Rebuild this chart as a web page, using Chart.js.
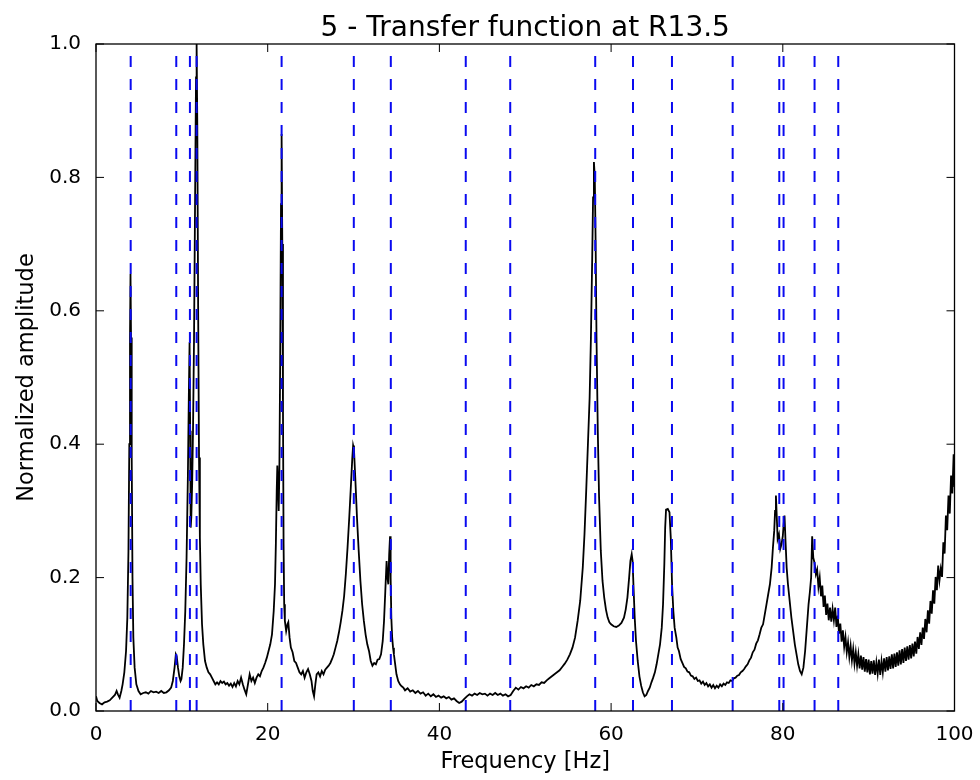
<!DOCTYPE html>
<html><head><meta charset="utf-8">
<script src="https://cdn.jsdelivr.net/npm/chart.js@4/dist/chart.umd.min.js"></script>
<style>html,body{margin:0;padding:0;background:#fff}#wrap{width:980px;height:780px}</style>
</head><body><div id="wrap"><canvas id="c" width="980" height="780"></canvas></div>
<script>
const titleText = '5 - Transfer function at R13.5';
const xLabel = 'Frequency [Hz]';
const yLabel = 'Normalized amplitude';
const xTicks = [0, 20, 40, 60, 80, 100];
const yTicks = [0.0, 0.2, 0.4, 0.6, 0.8, 1.0];
const modeFreqs = [4.04, 9.35, 10.94, 11.72, 21.62, 30.03, 34.34, 43.07, 48.25, 58.15, 62.55, 67.09, 74.16, 79.59, 80.09, 83.70, 86.46];

const freqHz = [
0, 0.15, 0.4, 0.7, 1.0, 1.3, 1.6, 1.9, 2.2, 2.4,
2.55, 2.75, 2.95, 3.1, 3.3, 3.5, 3.65, 3.78, 3.88, 3.96,
4.02, 4.08, 4.16, 4.25, 4.35, 4.5, 4.7, 4.95, 5.2, 5.5,
5.8, 6.1, 6.4, 6.7, 7.0, 7.3, 7.6, 7.9, 8.2, 8.5,
8.75, 8.95, 9.15, 9.3, 9.4, 9.55, 9.7, 9.85, 9.95, 10.1,
10.25, 10.4, 10.55, 10.7, 10.82, 10.9, 10.97, 11.03, 11.1, 11.2,
11.3, 11.42, 11.55, 11.65, 11.72, 11.8, 11.9, 12.0, 12.1, 12.2,
12.35, 12.5, 12.7, 12.9, 13.1, 13.3, 13.5, 13.7, 13.9, 14.1,
14.3, 14.5, 14.7, 14.9, 15.1, 15.3, 15.5, 15.7, 15.9, 16.1,
16.3, 16.5, 16.7, 16.9, 17.1, 17.3, 17.5, 17.7, 17.9, 18.1,
18.3, 18.5, 18.7, 18.9, 19.1, 19.3, 19.5, 19.7, 19.9, 20.1,
20.3, 20.5, 20.7, 20.85, 20.95, 21.05, 21.12, 21.2, 21.28, 21.36,
21.45, 21.55, 21.62, 21.7, 21.78, 21.85, 21.92, 22.0, 22.15, 22.3,
22.4, 22.55, 22.7, 22.9, 23.1, 23.3, 23.5, 23.7, 23.9, 24.1,
24.3, 24.5, 24.7, 24.9, 25.1, 25.25, 25.4, 25.55, 25.7, 25.9,
26.1, 26.3, 26.5, 26.7, 26.9, 27.1, 27.3, 27.5, 27.7, 27.9,
28.1, 28.3, 28.5, 28.7, 28.9, 29.1, 29.3, 29.5, 29.7, 29.85,
29.95, 30.05, 30.2, 30.4, 30.6, 30.8, 31.0, 31.2, 31.4, 31.6,
31.8, 32.0, 32.2, 32.4, 32.6, 32.8, 33.0, 33.2, 33.4, 33.55,
33.7, 33.85, 33.95, 34.05, 34.15, 34.25, 34.32, 34.4, 34.5, 34.6,
34.7, 34.85, 35.0, 35.2, 35.4, 35.6, 35.8, 36.0, 36.3, 36.6,
36.9, 37.2, 37.5, 37.8, 38.1, 38.4, 38.7, 39.0, 39.3, 39.6,
39.9, 40.2, 40.5, 40.8, 41.1, 41.4, 41.7, 42.0, 42.3, 42.6,
42.9, 43.2, 43.5, 43.8, 44.1, 44.4, 44.7, 45.0, 45.3, 45.6,
45.9, 46.2, 46.5, 46.8, 47.1, 47.4, 47.7, 48.0, 48.3, 48.6,
48.9, 49.2, 49.5, 49.8, 50.1, 50.4, 50.7, 51.0, 51.3, 51.6,
51.9, 52.2, 52.5, 52.8, 53.1, 53.4, 53.7, 54.0, 54.3, 54.6,
54.9, 55.2, 55.5, 55.8, 56.1, 56.4, 56.7, 56.9, 57.1, 57.3,
57.5, 57.65, 57.8, 57.9, 58.0, 58.1, 58.2, 58.3, 58.45, 58.6,
58.8, 59.0, 59.2, 59.4, 59.6, 59.8, 60.0, 60.3, 60.6, 60.9,
61.2, 61.5, 61.7, 61.9, 62.1, 62.25, 62.4, 62.5, 62.6, 62.75,
62.9, 63.1, 63.3, 63.5, 63.7, 63.9, 64.1, 64.3, 64.5, 64.7,
64.9, 65.1, 65.3, 65.5, 65.7, 65.9, 66.05, 66.2, 66.3, 66.4,
66.6, 66.8, 66.95, 67.1, 67.25, 67.4, 67.6, 67.75, 67.9, 68.1,
68.3, 68.5, 68.7, 68.9, 69.1, 69.3, 69.5, 69.7, 69.9, 70.1,
70.3, 70.5, 70.7, 70.9, 71.1, 71.3, 71.5, 71.7, 71.9, 72.1,
72.3, 72.5, 72.7, 72.9, 73.1, 73.3, 73.5, 73.7, 73.9, 74.1,
74.3, 74.5, 74.7, 74.9, 75.1, 75.3, 75.5, 75.7, 75.9, 76.1,
76.3, 76.5, 76.7, 76.9, 77.1, 77.3, 77.5, 77.7, 77.9, 78.1,
78.3, 78.5, 78.7, 78.85, 79.0, 79.1, 79.2, 79.3, 79.4, 79.55,
79.7, 79.85, 80.0, 80.1, 80.2, 80.3, 80.45, 80.6, 80.8, 81.0,
81.2, 81.4, 81.6, 81.8, 82.0, 82.2, 82.4, 82.6, 82.8, 83.0,
83.15, 83.3, 83.42, 83.55, 83.7, 83.85, 84.0, 84.15, 84.3, 84.45,
84.6, 84.75, 84.9, 85.05, 85.2, 85.35, 85.5, 85.65, 85.8, 85.95,
86.1, 86.25, 86.4, 86.55, 86.7, 86.85, 87.0, 87.15, 87.3, 87.45,
87.6, 87.75, 87.9, 88.05, 88.2, 88.35, 88.5, 88.65, 88.8, 88.95,
89.1, 89.25, 89.4, 89.55, 89.7, 89.85, 90.0, 90.15, 90.3, 90.45,
90.6, 90.75, 90.9, 91.05, 91.2, 91.35, 91.5, 91.65, 91.8, 91.95,
92.1, 92.25, 92.4, 92.55, 92.7, 92.85, 93.0, 93.15, 93.3, 93.45,
93.6, 93.75, 93.9, 94.05, 94.2, 94.35, 94.5, 94.65, 94.8, 94.95,
95.1, 95.25, 95.4, 95.55, 95.7, 95.85, 96.0, 96.15, 96.3, 96.45,
96.6, 96.75, 96.9, 97.05, 97.2, 97.35, 97.5, 97.65, 97.8, 97.95,
98.1, 98.25, 98.4, 98.55, 98.7, 98.85, 99.0, 99.15, 99.3, 99.45,
99.6, 99.75, 99.9, 100
];

const amplitude = [
0.022, 0.015, 0.012, 0.010, 0.013, 0.014, 0.016, 0.020, 0.024, 0.030,
0.025, 0.020, 0.030, 0.040, 0.058, 0.090, 0.140, 0.240, 0.400, 0.560,
0.655, 0.560, 0.380, 0.200, 0.110, 0.065, 0.040, 0.030, 0.025, 0.027,
0.028, 0.026, 0.030, 0.028, 0.029, 0.027, 0.030, 0.027, 0.028, 0.031,
0.035, 0.045, 0.065, 0.085, 0.082, 0.065, 0.052, 0.045, 0.048, 0.065,
0.100, 0.150, 0.230, 0.350, 0.480, 0.553, 0.420, 0.275, 0.290, 0.340,
0.420, 0.560, 0.780, 0.950, 1.000, 0.880, 0.600, 0.380, 0.260, 0.190,
0.130, 0.100, 0.075, 0.065, 0.058, 0.055, 0.050, 0.045, 0.040, 0.043,
0.040, 0.045, 0.042, 0.044, 0.040, 0.042, 0.038, 0.041, 0.036, 0.042,
0.037, 0.045, 0.040, 0.050, 0.040, 0.032, 0.025, 0.040, 0.055, 0.045,
0.050, 0.042, 0.050, 0.055, 0.052, 0.060, 0.065, 0.072, 0.080, 0.090,
0.100, 0.115, 0.150, 0.190, 0.250, 0.330, 0.368, 0.340, 0.300, 0.360,
0.520, 0.760, 0.865, 0.700, 0.450, 0.250, 0.160, 0.135, 0.120, 0.130,
0.133, 0.110, 0.095, 0.088, 0.075, 0.072, 0.065, 0.058, 0.055, 0.060,
0.050, 0.058, 0.063, 0.055, 0.045, 0.030, 0.022, 0.040, 0.055, 0.058,
0.052, 0.060, 0.055, 0.062, 0.065, 0.068, 0.072, 0.078, 0.085, 0.095,
0.105, 0.118, 0.133, 0.150, 0.172, 0.205, 0.245, 0.290, 0.340, 0.378,
0.398, 0.392, 0.350, 0.290, 0.240, 0.195, 0.160, 0.135, 0.115, 0.100,
0.090, 0.075, 0.068, 0.072, 0.070, 0.077, 0.078, 0.085, 0.105, 0.135,
0.180, 0.225, 0.200, 0.190, 0.235, 0.262, 0.200, 0.140, 0.110, 0.095,
0.085, 0.070, 0.055, 0.045, 0.040, 0.037, 0.035, 0.031, 0.034, 0.029,
0.031, 0.027, 0.030, 0.026, 0.028, 0.023, 0.026, 0.022, 0.025, 0.021,
0.023, 0.020, 0.022, 0.019, 0.021, 0.017, 0.019, 0.015, 0.012, 0.014,
0.018, 0.022, 0.025, 0.023, 0.026, 0.024, 0.027, 0.025, 0.026, 0.023,
0.026, 0.024, 0.027, 0.024, 0.026, 0.023, 0.025, 0.022, 0.024, 0.030,
0.035, 0.032, 0.036, 0.034, 0.037, 0.035, 0.039, 0.037, 0.040, 0.039,
0.043, 0.042, 0.046, 0.049, 0.052, 0.055, 0.058, 0.061, 0.066, 0.071,
0.077, 0.085, 0.095, 0.110, 0.135, 0.165, 0.215, 0.265, 0.330, 0.400,
0.470, 0.560, 0.680, 0.770, 0.823, 0.800, 0.700, 0.560, 0.420, 0.320,
0.240, 0.195, 0.170, 0.152, 0.140, 0.133, 0.130, 0.127, 0.126, 0.128,
0.132, 0.140, 0.152, 0.170, 0.200, 0.225, 0.235, 0.225, 0.190, 0.140,
0.105, 0.075, 0.052, 0.038, 0.028, 0.022, 0.024, 0.030, 0.035, 0.043,
0.050, 0.058, 0.070, 0.085, 0.100, 0.125, 0.160, 0.220, 0.275, 0.302,
0.303, 0.298, 0.260, 0.190, 0.150, 0.125, 0.110, 0.095, 0.090, 0.078,
0.072, 0.066, 0.064, 0.059, 0.058, 0.053, 0.052, 0.048, 0.050, 0.045,
0.046, 0.041, 0.044, 0.039, 0.042, 0.037, 0.040, 0.035, 0.039, 0.034,
0.038, 0.035, 0.040, 0.037, 0.041, 0.039, 0.043, 0.042, 0.046, 0.045,
0.049, 0.050, 0.053, 0.054, 0.058, 0.060, 0.063, 0.067, 0.070, 0.076,
0.080, 0.088, 0.092, 0.101, 0.106, 0.115, 0.125, 0.130, 0.145, 0.160,
0.175, 0.190, 0.215, 0.245, 0.270, 0.300, 0.323, 0.290, 0.258, 0.265,
0.243, 0.250, 0.262, 0.280, 0.293, 0.260, 0.215, 0.190, 0.165, 0.140,
0.120, 0.100, 0.085, 0.070, 0.060, 0.055, 0.065, 0.090, 0.125, 0.160,
0.178, 0.200, 0.262, 0.230, 0.222, 0.205, 0.212, 0.186, 0.200, 0.172,
0.188, 0.156, 0.173, 0.144, 0.161, 0.136, 0.155, 0.134, 0.153, 0.136,
0.155, 0.126, 0.143, 0.116, 0.131, 0.104, 0.121, 0.096, 0.111, 0.088,
0.103, 0.081, 0.098, 0.076, 0.093, 0.071, 0.088, 0.068, 0.085, 0.064,
0.083, 0.062, 0.081, 0.059, 0.078, 0.058, 0.077, 0.055, 0.075, 0.056,
0.076, 0.054, 0.073, 0.056, 0.077, 0.054, 0.075, 0.058, 0.079, 0.059,
0.081, 0.061, 0.082, 0.063, 0.085, 0.064, 0.086, 0.066, 0.088, 0.068,
0.091, 0.070, 0.093, 0.072, 0.095, 0.075, 0.097, 0.077, 0.099, 0.079,
0.101, 0.082, 0.104, 0.086, 0.111, 0.093, 0.118, 0.099, 0.125, 0.108,
0.138, 0.118, 0.151, 0.131, 0.165, 0.146, 0.181, 0.161, 0.201, 0.181,
0.218, 0.196, 0.213, 0.201, 0.253, 0.236, 0.293, 0.271, 0.323, 0.296,
0.353, 0.326, 0.385, 0.336
];

const FONT = 'DejaVu Sans';

const curve = freqHz.map((f, i) => ({ x: f, y: amplitude[i] }));
const modeSets = modeFreqs.map(f => ({
  data: [{ x: f, y: yTicks[0] }, { x: f, y: yTicks[yTicks.length - 1] }],
  borderColor: '#0a0af0',
  borderWidth: 2,
  borderDash: [11, 12],
  pointRadius: 0,
  order: 1
}));

const framePlugin = {
  id: 'frame',
  afterDatasetsDraw(chart) {
    const { ctx, chartArea: a, scales: { x, y } } = chart;
    ctx.save();
    ctx.strokeStyle = '#000';
    ctx.lineWidth = 1;
    ctx.beginPath();
    x.ticks.forEach(t => {
      const px = x.getPixelForValue(t.value);
      ctx.moveTo(px, a.bottom); ctx.lineTo(px, a.bottom - 8);
      ctx.moveTo(px, a.top); ctx.lineTo(px, a.top + 8);
    });
    y.ticks.forEach(t => {
      const py = y.getPixelForValue(t.value);
      ctx.moveTo(a.left, py); ctx.lineTo(a.left + 8, py);
      ctx.moveTo(a.right, py); ctx.lineTo(a.right - 8, py);
    });
    ctx.stroke();
    ctx.lineWidth = 1.3;
    ctx.strokeRect(a.left, a.top, a.right - a.left, a.bottom - a.top);
    ctx.restore();
  }
};

new Chart(document.getElementById('c'), {
  type: 'line',
  data: {
    datasets: [
      ...modeSets,
      { data: curve, borderColor: '#000', borderWidth: 1.8, pointRadius: 0, tension: 0, order: 2 }
    ]
  },
  options: {
    responsive: false,
    animation: false,
    layout: { padding: { left: 0, right: 25.5, top: 0, bottom: 0 } },
    plugins: {
      legend: { display: false },
      tooltip: { enabled: false },
      title: {
        display: true, text: titleText, fullSize: false, color: '#000',
        font: { family: FONT, size: 28, weight: 'normal', lineHeight: 1 },
        padding: { top: 15, bottom: 1 }
      }
    },
    scales: {
      x: {
        type: 'linear', min: 0, max: 100,
        afterBuildTicks: s => { s.ticks = xTicks.map(v => ({ value: v })); },
        afterFit: s => { s.height = 69; s.paddingLeft = 0; s.paddingRight = 0; },
        grid: { display: false, drawTicks: false },
        border: { display: false },
        ticks: { color: '#000', font: { family: FONT, size: 20 }, padding: 12, maxRotation: 0, autoSkip: false },
        title: { display: true, text: xLabel, color: '#000', font: { family: FONT, size: 22.5 }, padding: { top: 0, bottom: 4 } }
      },
      y: {
        type: 'linear', min: 0, max: 1,
        afterBuildTicks: s => { s.ticks = yTicks.map(v => ({ value: v })); },
        afterFit: s => { s.width = 96; s.paddingTop = 0; s.paddingBottom = 0; },
        grid: { display: false, drawTicks: false },
        border: { display: false },
        ticks: { color: '#000', font: { family: FONT, size: 20 }, padding: 15, callback: v => Number(v).toFixed(1) },
        title: { display: true, text: yLabel, color: '#000', font: { family: FONT, size: 22.5 }, padding: { top: 14, bottom: 0 } }
      }
    }
  },
  plugins: [framePlugin]
});
</script>
</body></html>
